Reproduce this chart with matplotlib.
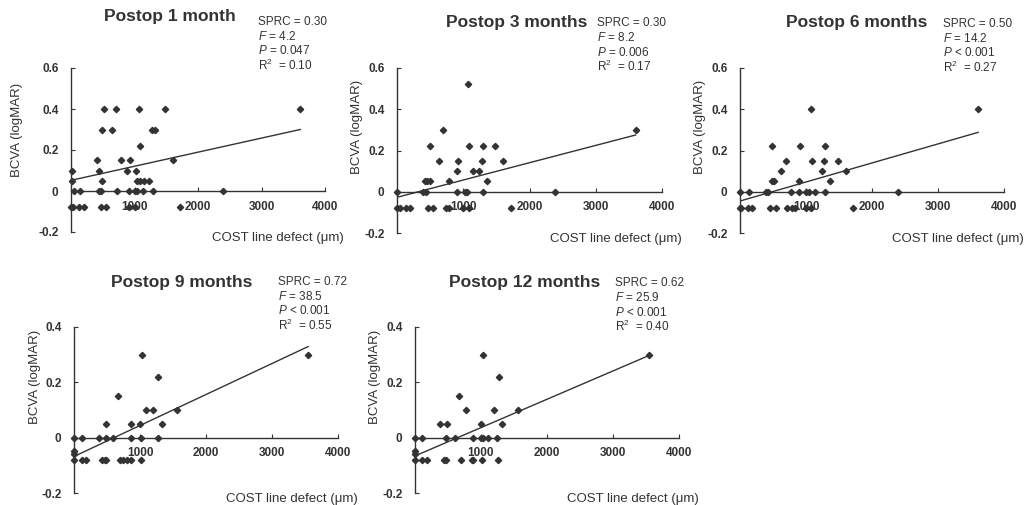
import matplotlib
matplotlib.use("Agg")
from matplotlib import pyplot as plt
from matplotlib.ticker import FuncFormatter
import numpy as np

plt.rcParams['font.family'] = ['Liberation Sans', 'DejaVu Sans']
plt.rcParams['mathtext.fontset'] = 'custom'
plt.rcParams['mathtext.rm'] = 'Liberation Sans'
plt.rcParams['mathtext.it'] = 'Liberation Sans:italic'

# panel titles
titles = ["Postop 1 month", "Postop 3 months", "Postop 6 months",
          "Postop 9 months", "Postop 12 months"]

# stats per panel
sprc = ["0.30", "0.30", "0.50", "0.72", "0.62"]
fval = ["4.2", "8.2", "14.2", "38.5", "25.9"]
pval = ["= 0.047", "= 0.006", "< 0.001", "< 0.001", "< 0.001"]
r2 = ["0.10", "0.17", "0.27", "0.55", "0.40"]

# regression lines
fit_intercept = [0.052, -0.027, -0.045, -0.068, -0.066]
fit_slope = [6.87e-5, 8.39e-5, 9.23e-5, 1.12e-4, 1.024e-4]

# COST line defect (um) and BCVA (logMAR), 1 month
x1 = [519, 701, 1065, 1481, 3610,
      494, 649, 1273, 1325,
      1091,
      405, 795, 935, 1610,
      16, 442, 883, 1029,
      16, 494, 1039, 1091, 1143, 1236,
      50, 140, 442, 468, 727, 909, 1013, 1039, 1132, 1299, 2390,
      0, 26, 130, 208, 468, 545, 909, 1013, 1714]
y1 = [0.4] * 5 + [0.3] * 4 + [0.22] + [0.15] * 4 + [0.1] * 4 + [0.05] * 6 + [0.0] * 11 + [-0.08] * 9

# 3 months
x2 = [1066,
      697, 3600,
      495, 1091, 1293, 1480,
      631, 924, 1278, 1606,
      899, 1141, 1242,
      419, 460, 495, 788, 1354,
      0, 394, 434, 899, 1025, 1050, 1303, 2389,
      0, 50, 140, 190, 470, 545, 740, 790, 1000, 1080, 1720]
y2 = [0.52] + [0.3] * 2 + [0.22] * 4 + [0.15] * 4 + [0.1] * 3 + [0.05] * 5 + [0.0] * 8 + [-0.08] * 11

# 6 months
x3 = [1070, 3608,
      492, 905, 1291,
      693, 1090, 1271, 1482,
      628, 1246, 1608,
      492, 518, 889, 1357,
      0, 136, 392, 417, 779, 889, 1005, 1040, 1131, 1291, 2387,
      0, 10, 126, 176, 452, 553, 719, 784, 829, 1000, 1080, 1709]
y3 = [0.4] * 2 + [0.22] * 3 + [0.15] * 4 + [0.1] * 3 + [0.05] * 4 + [0.0] * 11 + [-0.08] * 12

# 9 months
x4 = [1035, 3547,
      1269,
      662,
      1085, 1204, 1567,
      483, 871, 995, 1328,
      0, 114, 373, 483, 597, 871, 1020, 1269,
      0, 0,
      0, 114, 184, 423, 463, 483, 697, 746, 796, 871, 1020]
y4 = [0.3] * 2 + [0.22] + [0.15] + [0.1] * 3 + [0.05] * 4 + [0.0] * 8 + [-0.05, -0.06] + [-0.08] * 11

# 12 months
x5 = [1035, 3545,
      1275,
      670,
      770, 1200, 1560,
      375, 485, 1000, 1325,
      0, 110, 475, 600, 885, 1000, 1025, 1100, 1245,
      0, 0,
      0, 110, 185, 435, 470, 700, 860, 885, 1020, 1260]
y5 = [0.3] * 2 + [0.22] + [0.15] + [0.1] * 3 + [0.05] * 4 + [0.0] * 9 + [-0.05, -0.06] + [-0.08] * 10

xs = [x1, x2, x3, x4, x5]
ys = [y1, y2, y3, y4, y5]

W, H = 1027, 505
fig = plt.figure(figsize=(W / 100, H / 100), dpi=100)

# axes boxes in pixels: x of 0, x of 4000, y of top, y of bottom
boxes = [(71, 325, 68, 232), (397, 662, 68, 233), (740, 1004, 68, 233),
         (74, 338, 327, 493), (415, 679, 327, 493)]
title_pos = [(170, 17), (517, 23), (857, 23), (182, 283), (525, 283)]
stat_pos = [(258, 22), (597, 23), (943, 24), (278, 282), (615, 283)]
ylab_x = [-0.19, -0.13, -0.13, -0.125, -0.13]
ylab_y = [0.62, 0.64, 0.64, 0.70, 0.70]

col = '#333333'

for i in range(5):
    l, r, t, b = boxes[i]
    ax = fig.add_axes([l / W, 1 - b / H, (r - l) / W, (b - t) / H])
    ax.set_xlim(0, 4000)
    if i < 3:
        ax.set_ylim(-0.2, 0.6)
        ax.set_yticks([-0.2, 0, 0.2, 0.4, 0.6])
    else:
        ax.set_ylim(-0.2, 0.4)
        ax.set_yticks([-0.2, 0, 0.2, 0.4])
    ax.set_xticks([1000, 2000, 3000, 4000])

    ax.plot(xs[i], ys[i], linestyle='none', marker='D', ms=3.2, color=col,
            clip_on=False, zorder=3)
    xf = np.array([0, max(xs[i])])
    ax.plot(xf, fit_intercept[i] + fit_slope[i] * xf, color=col, lw=1)

    for s in ['top', 'right']:
        ax.spines[s].set_visible(False)
    ax.spines['bottom'].set_position(('data', 0))
    ax.spines['bottom'].set_color(col)
    ax.spines['left'].set_color(col)
    ax.spines['bottom'].set_linewidth(1)
    ax.spines['left'].set_linewidth(1)
    ax.tick_params(direction='in', length=3, color=col, labelcolor=col,
                   labelsize=8.5)
    ax.tick_params(axis='x', pad=7)
    ax.tick_params(axis='y', pad=9)
    ax.yaxis.set_major_formatter(FuncFormatter(lambda v, p: '0' if abs(v) < 1e-9 else '%.1f' % v))
    for lab in ax.get_xticklabels() + ax.get_yticklabels():
        lab.set_fontweight('bold')

    ax.set_ylabel('BCVA (logMAR)', fontsize=9.5, color=col)
    ax.yaxis.set_label_coords(ylab_x[i], ylab_y[i])
    ax.text(1.075, -0.035, u'COST line defect (\u03bcm)', transform=ax.transAxes,
            ha='right', va='center', fontsize=9.5, color=col)

    tx, ty = title_pos[i]
    fig.text(tx / W, 1 - ty / H, titles[i], ha='center', va='center',
             fontsize=12.5, fontweight='bold', color=col)

    sx, sy = stat_pos[i]
    lines = ['SPRC = ' + sprc[i],
             r'$\mathit{F}$ = ' + fval[i],
             r'$\mathit{P}$ ' + pval[i],
             r'R$^2$  = ' + r2[i]]
    for k in range(4):
        fig.text(sx / W, 1 - (sy + 14.5 * k) / H, lines[k], ha='left',
                 va='center', fontsize=8.5, color=col)

fig.savefig('out.png', dpi=100)
